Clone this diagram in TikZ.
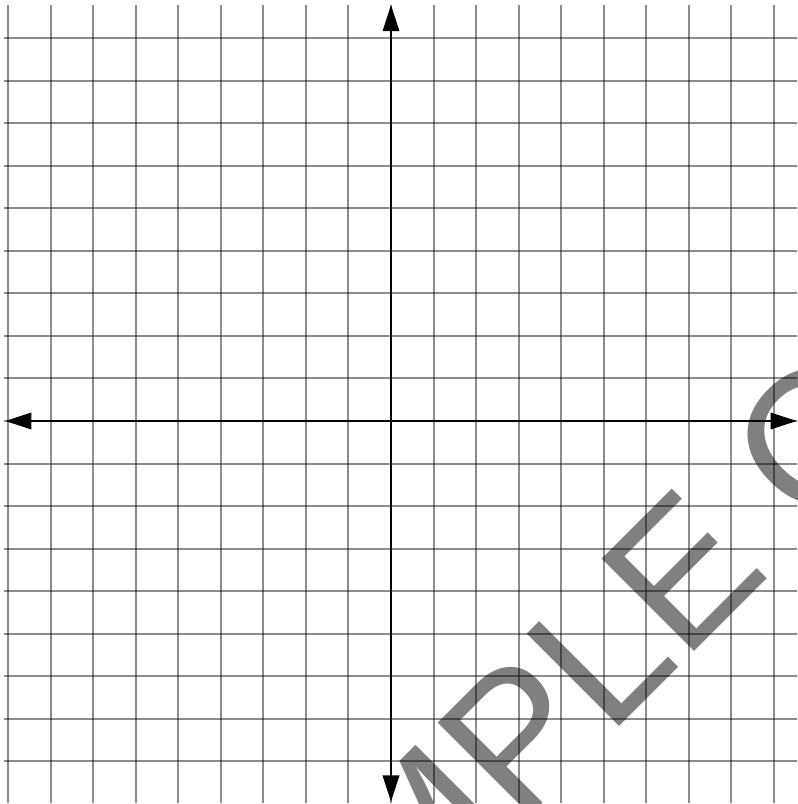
\documentclass[tikz,border=0pt]{standalone}
\usepackage{fontspec}
\usepackage{tikz}
\usetikzlibrary{arrows.meta}
\newfontfamily\markfont{Liberation Sans}

\begin{document}
\begin{tikzpicture}[
  gridline/.style={black, opacity=0.45, line width=1.3pt},
  axisline/.style={black, line width=2pt, {Triangle[length=0.62cm, width=0.38cm]}-{Triangle[length=0.62cm, width=0.38cm]}},
  stamp/.style={gray, inner sep=0, anchor=base west, rotate=45, font=\markfont\fontsize{127pt}{127pt}\selectfont}
]
  \useasboundingbox (-9.189, -9.001) rectangle (9.542, 9.894);
  \clip (-9.189, -9.001) rectangle (9.542, 9.894);

  % Watermark
  \node[stamp] (stamp) at (-3.83, -16.38) {SAMPLE COPY};

  % Grid
  \foreach \i in {-9,...,9} {
    \draw[gridline] (\i, -8.98) -- (\i, 9.78);
  }
  \foreach \j in {-8,...,9} {
    \draw[gridline] (-9.1, \j) -- (9.6, \j);
  }

  % Axes
  \coordinate (xmin) at (-9.07, 0);
  \coordinate (xmax) at (9.54, 0);
  \coordinate (ymin) at (0, -8.95);
  \coordinate (ymax) at (0, 9.78);
  \draw[axisline] (xmin) -- (xmax);
  \draw[axisline] (ymin) -- (ymax);

\end{tikzpicture}
\end{document}
